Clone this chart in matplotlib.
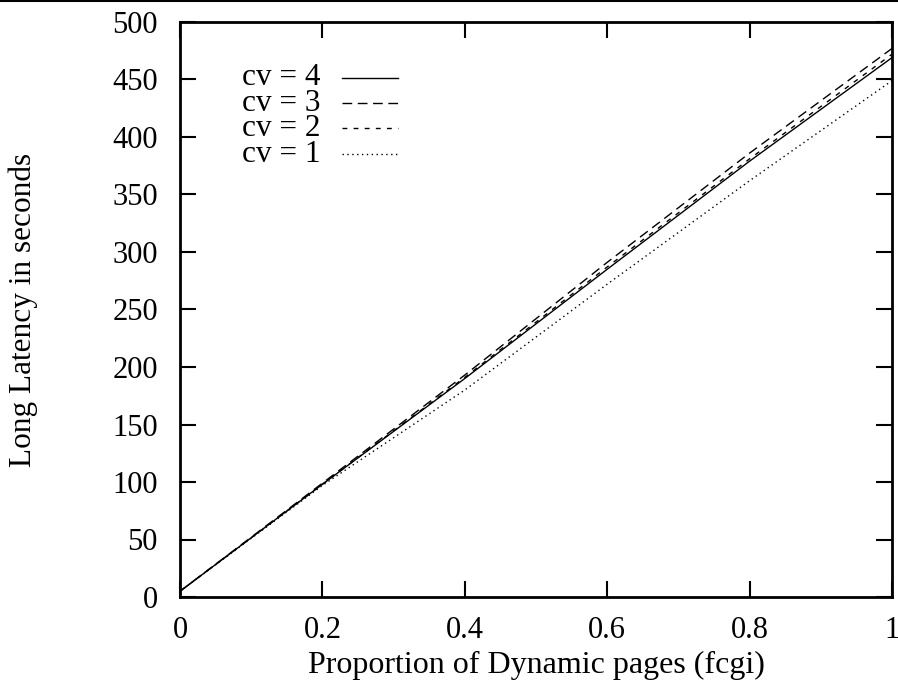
import matplotlib
matplotlib.use("Agg")
import matplotlib.pyplot as plt
from matplotlib.lines import Line2D

plt.rcParams['font.family'] = ['Liberation Serif', 'DejaVu Serif']
plt.rcParams['font.size'] = 22.5

# proportion of dynamic pages
x = [0, 0.2, 0.4, 0.6, 0.8, 1.0]

# long latency (seconds) per coefficient of variation
cv4 = [5, 98, 190, 285, 379, 469]
cv3 = [5, 99, 193, 291, 386, 477]
cv2 = [5, 98, 191, 287, 381, 472]
cv1 = [5, 97, 180, 272, 362, 449]

labels = ['cv = 4', 'cv = 3', 'cv = 2', 'cv = 1']
series = [cv4, cv3, cv2, cv1]
styles = [dict(linestyle='-'),
          dict(dashes=(7, 4)),
          dict(dashes=(3.5, 4.5)),
          dict(dashes=(1, 2.5))]

xticks = [0, 0.2, 0.4, 0.6, 0.8, 1]
xticklabels = ['0', '0.2', '0.4', '0.6', '0.8', '1']
yticks = list(range(0, 501, 50))

fig = plt.figure(figsize=(8.98, 6.84), dpi=100)
ax = fig.add_axes([180 / 898, 87 / 684, 712 / 898, 575 / 684])

for ys, st in zip(series, styles):
    ax.plot(x, ys, color='black', lw=1.0, **st)

ax.set_xlim(0, 1)
ax.set_ylim(0, 500)
ax.set_xticks(xticks)
ax.set_xticklabels(xticklabels)
ax.set_yticks(yticks)

ax.tick_params(direction='in', length=11.5, width=1.5, top=True, right=True,
               labelsize=22)
ax.tick_params(axis='x', pad=14)
ax.tick_params(axis='y', pad=16)
for sp in ax.spines.values():
    sp.set_linewidth(2)

ax.set_xlabel('Proportion of Dynamic pages (fcgi)', labelpad=4, fontsize=23)
ax.set_ylabel('Long Latency in seconds')
ax.yaxis.set_label_coords(-0.199, 0.5)

# key, drawn by hand so the rows sit tight like the original
row_y = [0.903, 0.859, 0.815, 0.770]
for lab, st, yy in zip(labels, styles, row_y):
    ax.text(0.197, yy, lab, transform=ax.transAxes, ha='right', va='center')
    ax.add_line(Line2D([0.2275, 0.306], [yy, yy], transform=ax.transAxes,
                       color='black', lw=1.0, **st))

# rule along the top edge of the page
fig.add_artist(Line2D([0, 1], [0.998, 0.998], transform=fig.transFigure,
                      color='black', lw=1.5))

plt.savefig('out.png', dpi=100)
